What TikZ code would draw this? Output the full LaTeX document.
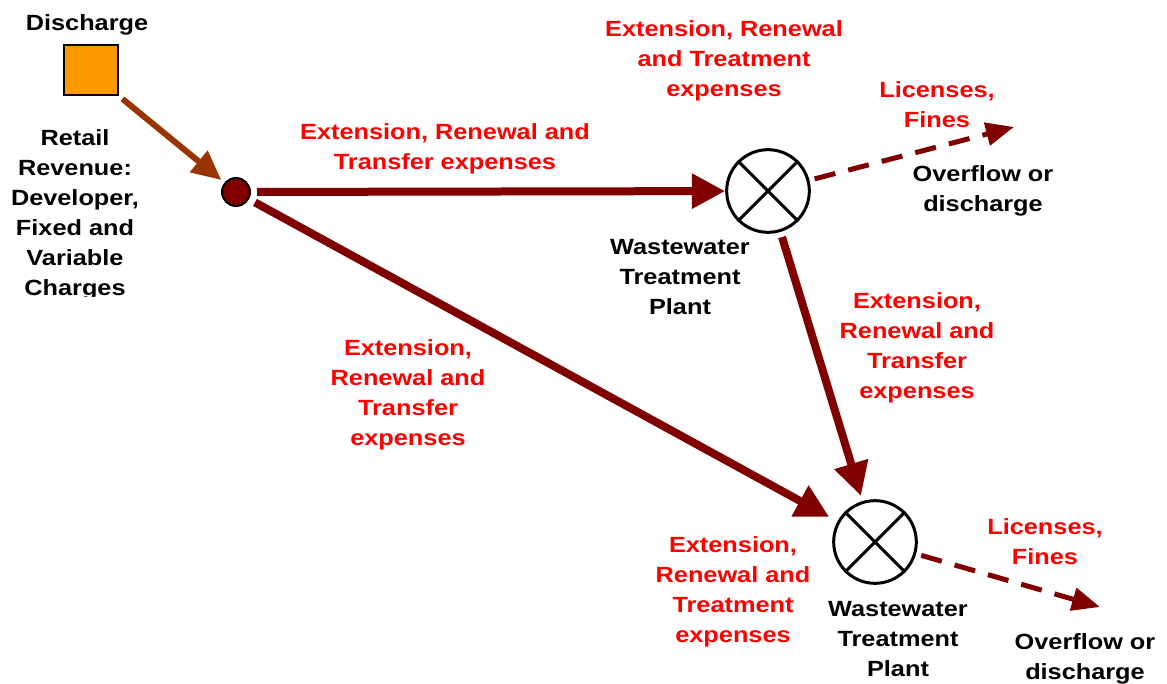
\documentclass[tikz,border=0pt]{standalone}
\usepackage{fontspec}
\setmainfont{Liberation Sans}[FakeStretch=1.15]
\usetikzlibrary{arrows.meta}
\definecolor{flowred}{HTML}{800000}
\definecolor{feedbrown}{HTML}{993300}
\definecolor{srcorange}{HTML}{FF9900}
\begin{document}
\begin{tikzpicture}[x=0.75pt,y=-0.75pt,
  lbl/.style={font=\fontsize{16.5}{22.5}\selectfont\bfseries, align=center, inner sep=0pt},
  cost/.style={lbl, text=red},
  plant/.style={circle, draw=black, line width=2.25pt, minimum size=62pt, inner sep=0pt},
  flow/.style={draw=flowred, line width=6pt, -{Triangle[length=25pt,width=25pt]}},
  loss/.style={draw=flowred, line width=3.75pt, dash pattern=on 16pt off 10pt, -{Triangle[length=21pt,width=17pt]}},
  feed/.style={draw=feedbrown, line width=4.5pt, -{Triangle[length=22pt,width=20pt]}}]
\useasboundingbox (0,0) rectangle (1167,684);

% source, junction and the two treatment plants
\node[draw=black, line width=1.5pt, fill=srcorange, minimum width=41pt, minimum height=38pt, inner sep=0pt] (disch) at (91,70) {};
\node[circle, draw=black, line width=1.5pt, fill=flowred, minimum size=21pt, inner sep=0pt] (hub) at (236,192) {};
\node[plant] (wtp1) at (768,191) {};
\node[plant] (wtp2) at (875,542) {};
\foreach \p in {wtp1,wtp2}{
  \draw[line width=2.25pt] (\p.north east) -- (\p.south west);
  \draw[line width=2.25pt] (\p.north west) -- (\p.south east);
}
\coordinate (out1) at (1014,127);
\coordinate (out2) at (1100,607);

% connectors
\draw[feed, shorten <=3pt, shorten >=3pt] (disch.south east) -- (hub);
\draw[flow, shorten <=4.5pt] (hub) -- (wtp1);
\draw[flow, shorten <=5pt, shorten >=7pt] (hub) -- (wtp2);
\draw[flow, shorten <=4pt, shorten >=4pt] (wtp1) -- (wtp2);
\draw[loss, shorten <=4pt] (wtp1) -- (out1);
\draw[loss, shorten <=4pt] (wtp2) -- (out2);

% labels
\node[lbl] (tdisch) at (87,25) {Discharge};
\begin{scope}
  \clip (0,0) rectangle (220,297);
  \node[lbl] (tretail) at (75,215) {Retail\\Revenue:\\Developer,\\Fixed and\\Variable\\Charges};
\end{scope}
\node[cost] (c1) at (445,149) {Extension, Renewal and\\Transfer expenses};
\node[cost] (c2) at (724,61) {Extension, Renewal\\and Treatment\\expenses};
\node[cost] (c3) at (937,105) {Licenses,\\Fines};
\node[lbl] (o1) at (983,191) {Overflow or\\discharge};
\node[lbl] (p1) at (680,277) {Wastewater\\Treatment\\Plant};
\node[cost] (c4) at (917,348) {Extension,\\Renewal and\\Transfer\\expenses};
\node[cost] (c5) at (408,395) {Extension,\\Renewal and\\Transfer\\expenses};
\node[cost] (c6) at (733,592) {Extension,\\Renewal and\\Treatment\\expenses};
\node[cost] (c7) at (1045,542) {Licenses,\\Fines};
\node[lbl] (p2) at (898,639) {Wastewater\\Treatment\\Plant};
\node[lbl] (o2) at (1085,659) {Overflow or\\discharge};
\end{tikzpicture}
\end{document}
